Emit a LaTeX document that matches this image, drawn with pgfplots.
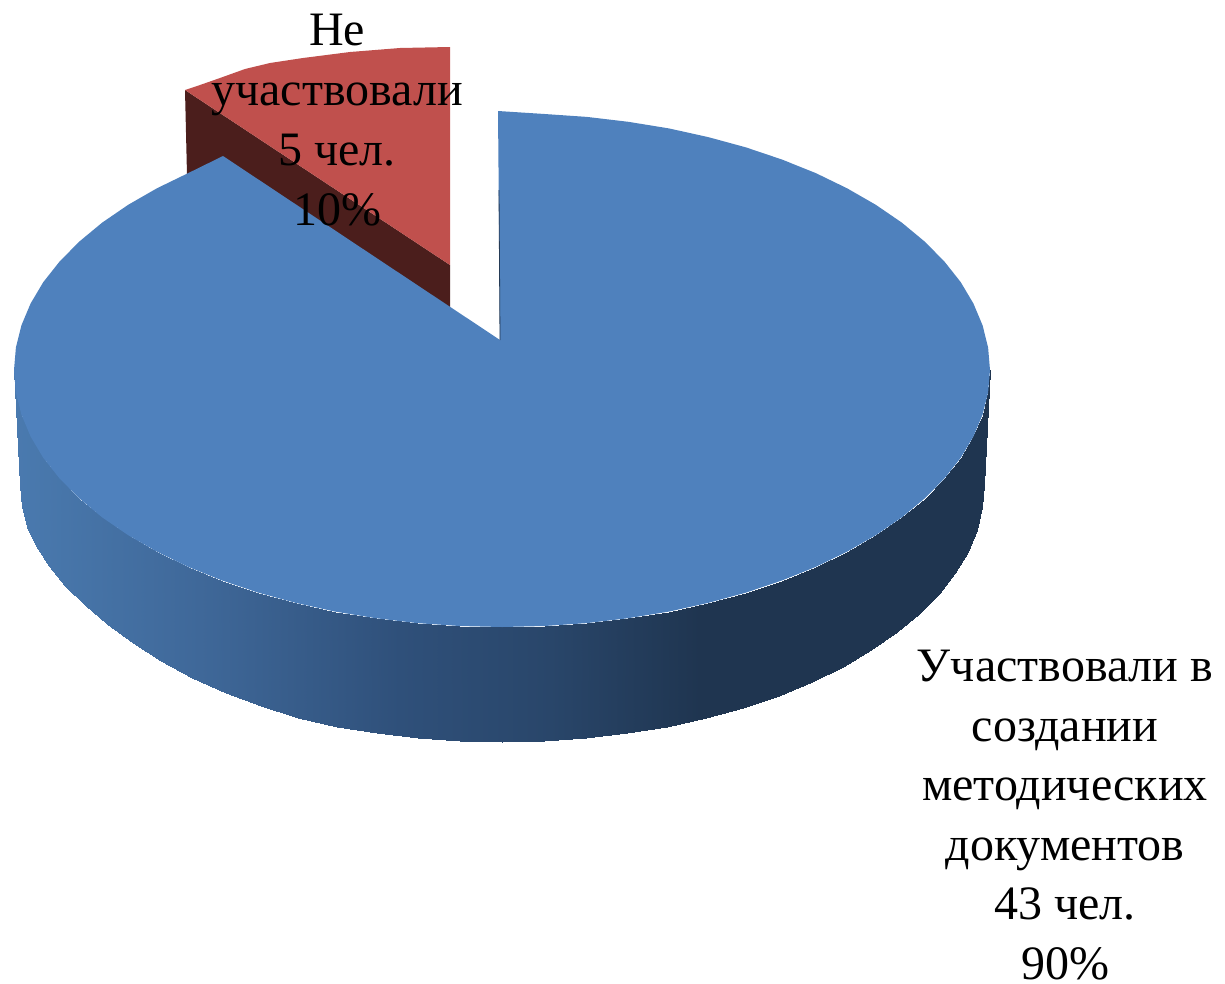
\documentclass[border=0pt]{standalone}
\usepackage{pgfplots}
\pgfplotsset{compat=1.18}
\usepackage{fontspec}
\setmainfont{Liberation Serif}
\definecolor{pieblue}{HTML}{4F81BD}
\definecolor{piered}{HTML}{C0504D}
\definecolor{piedark}{HTML}{4B1E1C}
\begin{document}
\begin{tikzpicture}
\path[use as bounding box] (0,0) rectangle (1225pt,983pt);
\begin{axis}[
  at={(0,0)},anchor=south west,
  width=1225pt,height=983pt,scale only axis,
  xmin=0,xmax=1225,ymin=0,ymax=983,y dir=reverse,
  axis lines=none,clip=false,
  colormap={side}{rgb255(0pt)=(74,122,175); rgb255(186pt)=(63,104,153); rgb255(386pt)=(47,80,122); rgb255(536pt)=(41,70,106); rgb255(686pt)=(31,53,80); rgb255(976pt)=(31,53,80)},
  point meta min=14,point meta max=990,
]
% side wall of the large slice
\addplot[surf,shader=interp,mesh/rows=37,mesh/cols=2,point meta=x] coordinates {
(14,370)(20,485)
(15.9,392.4)(21.8,507)
(21.4,414.6)(27.2,527)
(30.6,436.5)(36.4,546)
(43.3,457.9)(49.1,566)
(59.7,478.6)(65.2,586)
(79.4,498.5)(84.6,605)
(102.2,517.4)(107.2,624)
(128.2,535.2)(132.8,643)
(156.9,551.7)(161.2,661)
(188.2,566.9)(192.2,678)
(222.1,580.5)(225.5,693)
(258,592.6)(261,706)
(295.8,602.9)(298.3,717.9)
(335.1,611.6)(337.1,726.6)
(375.7,618.2)(377.3,733.2)
(417.1,623.1)(418.3,738.1)
(459.4,626)(460,741)
(502,627)(502,742)
(544.6,626)(544,741)
(586.9,623.1)(585.7,738.1)
(628.3,618.2)(626.7,733.2)
(668.9,611.6)(666.9,726.6)
(708.2,602.9)(705.7,717.9)
(746,592.6)(743,707.6)
(781.9,580.5)(778.5,695.5)
(815.8,566.9)(811.8,681.9)
(847.1,551.7)(842.8,666.7)
(875.8,535.2)(871.2,650.2)
(901.8,517.4)(896.8,632.4)
(924.6,498.5)(919.4,613.5)
(944.3,478.6)(938.8,593.6)
(960.7,457.9)(954.9,572.9)
(973.4,436.5)(967.6,551.5)
(982.6,414.6)(976.8,529.6)
(988.1,392.4)(982.2,507.4)
(990,370)(984,485)
};
% small slice: wall
\addplot[fill=piedark,draw=none] coordinates {(185,90)(450,265)(450,310)(187,175)} -- cycle;
% small slice: top
\addplot[fill=piered,draw=none] coordinates {(185,90)(200,85)(220,78)(245,69)(270,63)(303,58)(350,52)(400,48)(450,47)(450,265)} -- cycle;
% large slice: top
\addplot[fill=pieblue,draw=none] coordinates {
(498,111)(544.6,114)(586.9,116.9)(628.3,121.8)(668.9,128.4)(708.2,137.1)(746,147.4)(781.9,159.5)(815.8,173.1)(847.1,188.3)(875.8,204.8)(901.8,222.6)(924.6,241.5)(944.3,261.4)(960.7,282.1)(973.4,303.5)(982.6,325.4)(988.1,347.6)(990,370)
(988.1,392.4)(982.6,414.6)(973.4,436.5)(960.7,457.9)(944.3,478.6)(924.6,498.5)(901.8,517.4)(875.8,535.2)(847.1,551.7)(815.8,566.9)(781.9,580.5)(746,592.6)(708.2,602.9)(668.9,611.6)(628.3,618.2)(586.9,623.1)(544.6,626)(502,627)
(459.4,626)(417.1,623.1)(375.7,618.2)(335.1,611.6)(295.8,602.9)(258,592.6)(222.1,580.5)(188.2,566.9)(156.9,551.7)(128.2,535.2)(102.2,517.4)(79.4,498.5)(59.7,478.6)(43.3,457.9)(30.6,436.5)(21.4,414.6)(15.9,392.4)(14,370)
(15.9,347.6)(21.4,325.4)(30.6,303.5)(43.3,282.1)(59.7,261.4)(79.4,241.5)(102.2,222.6)(128.2,204.8)(156.9,188.3)(188.2,173.1)(223,156)(500,340)} -- cycle;
\addplot[draw=pieblue!45!black,line width=0.8pt] coordinates {(499,190)(500,340)};
\node[anchor=north,inner sep=0pt,align=center,font=\fontsize{48}{60}\selectfont] at (axis cs:337,14) {Не\\участвовали\\5 чел.\\10\%};
\node[anchor=north,inner sep=0pt,align=center,font=\fontsize{48}{59.5}\selectfont] at (axis cs:1065,650) {Участвовали в\\создании\\методических\\документов\\43 чел.\\90\%};
\end{axis}
\end{tikzpicture}
\end{document}
